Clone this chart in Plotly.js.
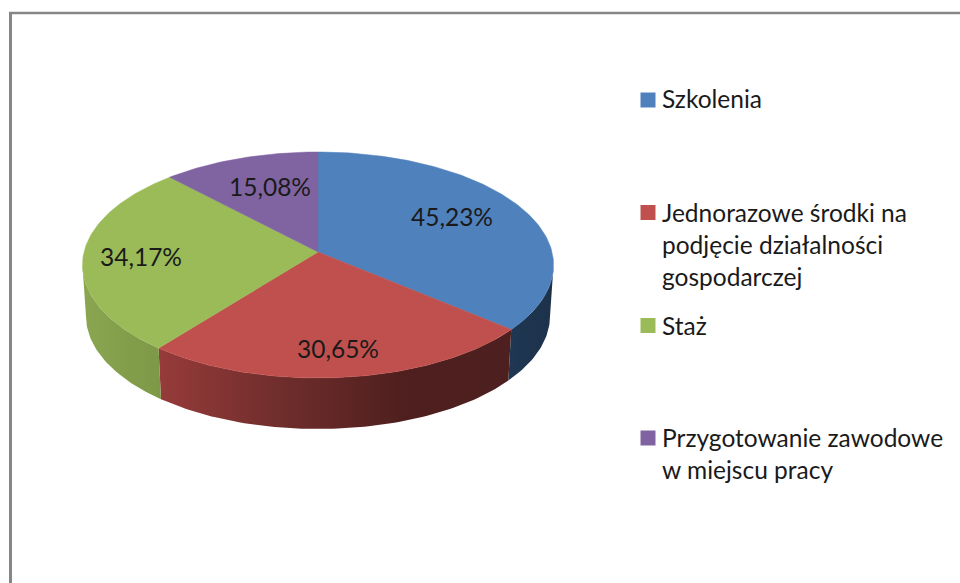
<!DOCTYPE html>
<html><head><meta charset="utf-8">
<script src="https://cdn.plot.ly/plotly-3.0.1.min.js"></script>
<style>html,body{margin:0;padding:0;background:#fff;overflow:hidden}#c{width:960px;height:583px}</style>
</head><body><div id="c"></div>
<script>
const categories = ['Szkolenia','Jednorazowe środki na<br>podjęcie działalności<br>gospodarczej','Staż','Przygotowanie zawodowe<br>w miejscu pracy'];
const values = [45.23,30.65,34.17,15.08];
const colors = ['#4f81bd','#c0504d','#9bbb59','#8064a2'];
const wallScales = [
  [[0,'#1f3753'],[1,'#1d3249']],
  [[0,'#963b3a'],[0.35,'#6f2d2c'],[0.7,'#4e1f1e'],[1,'#4d1f1e']],
  [[0,'#8aa650'],[1,'#7d9847']],
  [[0,'#5a4675'],[1,'#5a4675']]
];
const labelPos = [[452,219.5],[338,352],[141,259.5],[270,189.5]];
const legendY = [100,212.5,325.5,438];
const legendTextY = [98.5,244.5,325.5,453];

// projection of the tilted disc onto the page (page pixels are the axis units)
const cx=318, cy=252, a=234, b=111.5, k=0.115, depth=51, sx=0.985;
function rim(deg, bottom){
  const t=deg*Math.PI/180, w=1+k*Math.cos(t);
  const x=a*Math.sin(t)/w, y=-b*Math.cos(t)/w;
  return bottom ? [cx+sx*x, cy+y+depth] : [cx+x, cy+y];
}
function arc(from,to,bottom){
  const pts=[], n=Math.max(2,Math.ceil(Math.abs(to-from)));
  for(let i=0;i<=n;i++) pts.push(rim(from+(to-from)*i/n,bottom));
  return pts;
}
const total=values.reduce((s,v)=>s+v,0);
let acc=0;
const spans=values.map(v=>{const s=[acc,acc+v/total*360];acc=s[1];return s;});

const traces=[];
// side walls: only the front part of the disc is visible
spans.forEach((s,i)=>{
  const from=Math.max(s[0],96.6), to=Math.min(s[1],263.4);
  if(to<=from) return;
  const pts=arc(from,to,false).concat(arc(to,from,true));
  pts.push(pts[0]);
  traces.push({type:'scatter',mode:'lines',x:pts.map(p=>p[0]),y:pts.map(p=>p[1]),
    fill:'toself',fillcolor:wallScales[i][0][1],
    fillgradient:{type:'horizontal',colorscale:wallScales[i]},
    line:{width:0},hoverinfo:'skip',showlegend:false});
});
// top faces
spans.forEach((s,i)=>{
  const pts=[[cx,cy]].concat(arc(s[0],s[1],false)); pts.push([cx,cy]);
  traces.push({type:'scatter',mode:'lines',x:pts.map(p=>p[0]),y:pts.map(p=>p[1]),
    fill:'toself',fillcolor:colors[i],line:{width:0.5,color:colors[i]},
    name:categories[i].replace(/<br>/g,' '),hoverinfo:'name',showlegend:false});
});
// percentage labels
traces.push({type:'scatter',mode:'text',x:labelPos.map(p=>p[0]),y:labelPos.map(p=>p[1]),
  text:values.map(v=>v.toFixed(2).replace('.',',')+'%'),textposition:'middle center',
  textfont:{family:'Lato, sans-serif',size:24.5,color:'#1a1a1a'},hoverinfo:'skip',showlegend:false,cliponaxis:false});
// legend swatches
categories.forEach((c,i)=>{
  traces.push({type:'scatter',mode:'markers',x:[648],y:[legendY[i]],
    marker:{symbol:'square',size:15,color:colors[i],line:{width:0}},
    hoverinfo:'skip',showlegend:false,cliponaxis:false});
});
const layout={
  width:960,height:583,margin:{l:0,r:0,t:0,b:0},paper_bgcolor:'#fff',plot_bgcolor:'#fff',showlegend:false,
  xaxis:{range:[0,960],visible:false,fixedrange:true},
  yaxis:{range:[583,0],visible:false,fixedrange:true},
  shapes:[
    {type:'line',x0:10.5,x1:10.5,y0:12,y1:583,line:{color:'#868686',width:3}},
    {type:'line',x0:9,x1:960,y0:13,y1:13,line:{color:'#868686',width:2.5}}
  ],
  annotations:categories.map((c,i)=>({
    xref:'x',yref:'y',x:660,y:legendTextY[i],xanchor:'left',yanchor:'middle',align:'left',
    text:c,showarrow:false,font:{family:'Lato, sans-serif',size:24.5,color:'#1a1a1a'}
  }))
};
Plotly.newPlot('c',traces,layout,{displayModeBar:false,staticPlot:true});
</script></body></html>
